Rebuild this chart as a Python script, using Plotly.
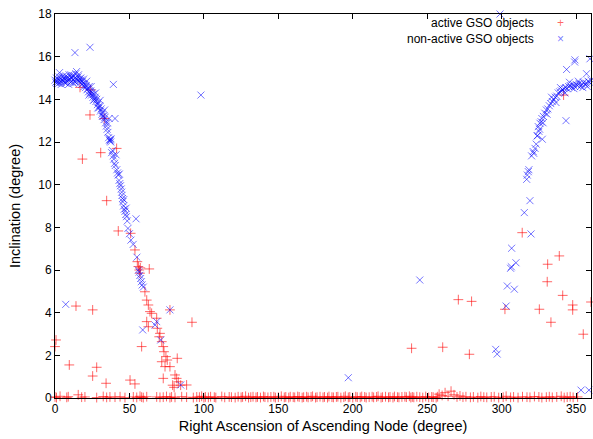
import plotly.graph_objects as go

# ---------------- data ----------------
# active GSO objects: near-zero inclination band (rows of 10)
active_zero_x = [
    0, 1, 3.4, 7.9, 8.9, 15.6, 17.9, 20.1, 28, 32.4,
    34.7, 36.9, 40.3, 43.7, 47, 52.6, 54.9, 57.1, 58.2, 59.3,
    61.6, 68.3, 70.5, 72.7, 74.9, 77.2, 78.3, 80.6, 85.1, 88.4,
    92.9, 95.2, 97, 98.5, 100, 101, 103, 104.5, 107, 108,
    112, 114, 117, 118.5, 121, 123, 125, 126, 128, 130,
    131.5, 133, 135, 136, 138, 140, 141, 143, 145, 147,
    148, 150, 152, 154, 155, 157, 158, 160, 161, 163,
    164, 166, 167, 169, 170, 172, 173, 175, 176, 178,
    180, 181, 183, 184, 186, 187, 189, 190, 192, 194,
    195, 197, 198, 200, 202, 203, 205, 206, 208, 209,
    211, 213, 214, 216, 217, 219, 220, 222, 224, 225,
    227, 228, 230, 231, 233, 235, 236, 238, 239, 240,
    241, 243, 245, 247, 249, 251, 253, 254, 256, 257,
    258, 260, 262, 264, 266, 268, 270, 272, 274, 276,
    279, 281, 284, 286, 288, 290, 293, 295, 298, 301,
    303, 306, 308, 311, 314, 317, 319, 322, 325, 327,
    330, 332, 334, 337, 340, 342, 344, 346, 348, 351,
]
active_zero_y = [
    0.05, 0.02, 0.08, 0.03, 0.06, 0.15, 0.04, 0.05, 0.02, 0.07,
    0.03, 0.05, 0.04, 0.06, 0.02, 0.05, 0.03, 0.08, 0.04, 0.02,
    0.06, 0.05, 0.03, 0.04, 0.07, 0.02, 0.05, 0.03, 0.06, 0.04,
    0.02, 0.05, 0.04, 0.08, 0.02, 0.05, 0.03, 0.06, 0.04, 0.02,
    0.07, 0.03, 0.05, 0.04, 0.02, 0.06, 0.03, 0.05, 0.08, 0.02,
    0.04, 0.06, 0.03, 0.05, 0.02, 0.07, 0.04, 0.03, 0.05, 0.06,
    0.02, 0.04, 0.08, 0.03, 0.05, 0.02, 0.06, 0.04, 0.03, 0.07,
    0.05, 0.02, 0.04, 0.06, 0.03, 0.05, 0.08, 0.02, 0.04, 0.06,
    0.03, 0.05, 0.02, 0.07, 0.04, 0.03, 0.05, 0.06, 0.02, 0.04,
    0.08, 0.03, 0.05, 0.02, 0.06, 0.04, 0.03, 0.07, 0.05, 0.02,
    0.04, 0.06, 0.03, 0.05, 0.08, 0.02, 0.04, 0.06, 0.03, 0.05,
    0.02, 0.07, 0.04, 0.03, 0.05, 0.06, 0.04, 0.08, 0.02, 0.05,
    0.03, 0.06, 0.04, 0.02, 0.07, 0.03, 0.05, 0.04, 0.02, 0.06,
    0.18, 0.12, 0.25, 0.08, 0.32, 0.15, 0.05, 0.1, 0.04, 0.06,
    0.03, 0.05, 0.02, 0.07, 0.04, 0.03, 0.05, 0.06, 0.02, 0.04,
    0.08, 0.03, 0.05, 0.02, 0.06, 0.04, 0.03, 0.07, 0.05, 0.02,
    0.04, 0.06, 0.03, 0.05, 0.08, 0.02, 0.04, 0.06, 0.03, 0.05,
]

# active GSO objects: drifting / inclined ones
active_x = [0, 0.7, 9.6, 14.1, 16.8, 18.4, 24.0, 23.5, 25.3, 25.3, 28, 30.7, 33.1, 34.3, 34.7,
            41.4, 42.5, 50.4, 53.7, 50.8, 53.7, 55.3, 56, 56.6, 57.1, 57.3, 63.3, 58.2, 60.4,
            61.6, 62.7, 63.8, 64.9, 61.6, 62.7, 68.3, 68.7, 70.5, 70, 71.7, 72.7, 73.2, 74.5,
            75.4, 82.1, 71.7, 77.2, 73.9, 80.6, 81.7, 72.7, 82.8, 88.4, 84.4, 92, 77.2, 79, 80,
            239.5, 260.4, 270.9, 279.8, 278.3, 302.2, 313.8, 325.3, 330.9, 330.6, 333.1, 338.7,
            341, 347.7, 347.7, 354.8, 360, 341.6]
active_y = [2.41, 2.72, 1.55, 4.31, 14.56, 11.2, 14.44, 13.27, 4.13, 1.03, 1.44, 11.5, 13.1, 0.69,
            9.25, 11.7, 7.83, 0.84, 0.66, 7.72, 6.94, 6.39, 6.16, 6.0, 5.85, 6.1, 6.05, 2.41, 4.98,
            4.59, 4.36, 4.05, 3.97, 3.58, 3.34, 3.74, 3.27, 3.03, 2.87, 2.64, 2.41, 2.17, 1.94,
            1.78, 1.86, 1.70, 1.47, 1.47, 1.08, 0.92, 0.92, 0.76, 0.61, 0.6, 3.55, 4.13, 0.6, 0.5,
            2.33, 2.38, 4.61, 4.53, 2.05, 4.16, 7.75, 4.16, 6.27, 5.45, 3.55, 6.66,
            4.81, 4.36, 4.13, 2.99, 4.5, 14.2]

# non-active GSO objects
nonactive_x = [0, 0.5, 1, 1.5, 2, 2.5, 3, 3.5, 4, 4.5, 5, 5.5, 6, 6.5, 7, 7.5, 8, 8.5, 9, 9.5,
               10, 10.5, 11, 11.5, 12, 12.5, 13, 13.5, 14, 14.5, 15, 15.5, 16, 16.5, 17, 17.5,
               18, 18.5, 19, 19.5, 20, 20.5, 21, 21.5, 22, 22.5, 23, 23.5, 24, 24.5, 25, 25.5,
               26, 26.5, 27, 27.5, 28, 28.5, 29, 29.5, 30, 30.5, 31, 31.5, 32, 32.5, 33, 33.5,
               34, 34.5, 35, 35.5, 36, 36.3, 36.5, 37, 37.2, 37.4, 37.6, 38, 38.5, 39, 39.5, 40,
               40.5, 41, 41.5, 42, 42.5, 43, 43.5, 44, 44.5, 44.8, 45, 45.3, 45.6, 46, 46.5, 47,
               47.5, 48, 48.5, 49, 50, 51, 52.5, 54.4, 55, 56, 56.5, 57, 57.5, 58, 58.5, 59.3,
               58.9, 67.2, 68.3, 71, 77.2, 84.4, 7.2, 13.4, 23.5, 39.2, 40.3, 98, 197, 245,
               296, 297, 303, 303.8, 308.5, 306, 306.5, 306.7, 309.6, 315.2, 319, 319.7, 316.8,
               317.2, 317.9, 318.3, 320.1, 321.2, 321.5, 322.4, 323.2, 323.9, 324.6, 325, 325.7,
               326.5, 327.3, 327, 328, 329, 330, 331, 332, 333, 334, 335, 336, 337, 338, 339,
               340, 341, 342, 343, 344, 345, 346, 347, 348, 349, 350, 351, 352, 353, 354, 355,
               356, 357, 358, 359, 360, 357, 359.3, 349.2, 349, 343.6, 343.2, 298.9, 353.3,
               358.6, 325.5, 324,
               1.2, 2.8, 4.2, 5.8, 7.3, 9.2, 10.8, 12.3, 13.8, 15.8, 17.3, 19.2, 21.3, 22.8,
               24.3, 25.8, 27.3, 28.8, 30.3, 31.8, 33.3, 35.2, 43.2, 46.2, 47.8,
               333.5, 336.5, 339.5, 342.5, 345.5, 348.5, 351.5, 354.5, 357.5, 330.5, 327.8]
nonactive_y = [14.9, 14.8, 15.0, 14.85, 14.95, 14.75, 15.25, 14.9, 14.8, 15.05, 14.9, 14.85, 15.0,
               14.8, 14.95, 15.1, 14.85, 15.0, 14.9, 15.15, 14.95, 14.8, 15.05, 15.0, 14.9, 15.1,
               14.85, 15.0, 15.2, 15.3, 14.95, 15.05, 14.85, 14.95, 14.8, 14.9, 14.7, 14.85,
               14.75, 14.6, 14.7, 14.55, 14.65, 14.45, 14.5, 14.35, 14.6, 14.3, 14.4, 14.2, 14.3,
               14.1, 14.25, 14.0, 14.1, 13.9, 14.0, 13.75, 13.85, 13.6, 13.7, 13.45, 13.55, 13.3,
               13.4, 13.2, 13.05, 13.15, 12.9, 12.75, 12.6, 12.45, 12.2, 13.1, 12.1, 12.05, 12.1,
               12.0, 12.15, 11.5, 11.6, 11.35, 11.2, 11.0, 10.9, 11.4, 10.7, 10.55, 10.45, 10.2,
               10.05, 9.95, 9.8, 9.65, 9.5, 9.35, 9.2, 9.0, 8.85, 8.75, 8.6, 8.5, 8.3, 7.95, 7.7,
               7.4, 7.2, 8.4, 6.6, 6.0, 5.9, 5.75, 5.6, 5.45, 5.3, 5.2,
               3.19, 3.42, 3.58, 2.72, 4.13, 0.61, 4.39, 16.19, 16.44, 14.7, 13.1, 14.2, 0.95,
               5.53,
               2.28, 2.06, 4.31, 5.25, 5.1, 6.08, 6.15, 7.02, 6.34, 8.69, 9.25, 7.69, 10.25,
               10.45, 10.61, 10.7, 11.35, 11.55, 11.47, 11.7, 11.9, 12.28, 12.72, 12.5, 12.88,
               12.95, 12.13, 13.1, 13.2, 13.35, 13.5, 13.55, 13.7, 13.8, 13.9, 14.0, 14.1, 14.15,
               14.3, 14.35, 14.4, 14.45, 14.5, 14.55, 14.5, 14.6, 14.65, 14.55, 14.7, 14.6, 14.7,
               14.65, 14.75, 14.6, 14.7, 14.8, 14.7, 14.75, 14.85, 14.8, 14.9, 15.2, 15.9, 15.85,
               15.75, 15.4, 13.0, 18.0, 0.37, 0.37, 12.6, 12.3,
               14.75, 15.05, 14.7, 15.1, 14.75, 14.7, 15.15, 14.75, 14.8, 15.15, 15.0, 14.95, 14.85,
               14.2, 14.6, 13.95, 14.3, 13.6, 13.95, 13.2, 13.5, 12.9, 10.5, 9.3, 8.9,
               14.1, 13.85, 14.55, 14.3, 14.8, 14.5, 14.85, 14.55, 14.6, 13.3, 12.9]

x_ticks = [0, 50, 100, 150, 200, 250, 300, 350]
y_ticks = [0, 2, 4, 6, 8, 10, 12, 14, 16, 18]

series_names = ["active GSO objects", "non-active GSO objects"]
red = "rgba(255,0,0,0.6)"
blue = "rgba(0,0,255,0.55)"

fig = go.Figure()
fig.add_trace(go.Scatter(
    x=active_zero_x + active_x, y=active_zero_y + active_y, mode="markers",
    name=series_names[0], cliponaxis=False,
    marker=dict(symbol="cross-thin", size=7, line=dict(color=red, width=1)),
))
fig.add_trace(go.Scatter(
    x=nonactive_x, y=nonactive_y, mode="markers",
    name=series_names[1], cliponaxis=False,
    marker=dict(symbol="x-thin", size=7, line=dict(color=blue, width=1)),
))

font = "Liberation Sans, Arial, sans-serif"
axis_common = dict(
    showgrid=False, zeroline=False, showline=True, linecolor="black", linewidth=1,
    mirror="ticks", ticks="inside", ticklen=5, tickcolor="black",
    tickfont=dict(family=font, size=12, color="black"),
)
fig.update_layout(
    width=593, height=439,
    margin=dict(l=55, r=2, t=14, b=41),
    paper_bgcolor="white", plot_bgcolor="white",
    showlegend=False,
    xaxis=dict(range=[0, 360], tickvals=x_ticks, automargin=False,
               title=dict(text="Right Ascension of Ascending Node (degree)",
                          font=dict(family=font, size=14.5, color="black"), standoff=5),
               **axis_common),
    yaxis=dict(range=[0, 18], tickvals=y_ticks, automargin=False,
               title=dict(text="Inclination (degree)",
                          font=dict(family=font, size=14.5, color="black"), standoff=14),
               **axis_common),
    annotations=[
        dict(x=0.897, y=0.955, xref="paper", yref="paper", xanchor="right", yanchor="middle",
             align="right", showarrow=False,
             text=series_names[0] + "<br>" + series_names[1],
             font=dict(family=font, size=12, color="black")),
        dict(x=0.944, y=0.955, xref="paper", yref="paper", xanchor="center", yanchor="middle",
             align="center", showarrow=False,
             text=f"<span style='color:{red}'>+</span><br><span style='color:{blue}'>×</span>",
             font=dict(family=font, size=12, color="black")),
    ],
)

fig.write_html("out.html")
